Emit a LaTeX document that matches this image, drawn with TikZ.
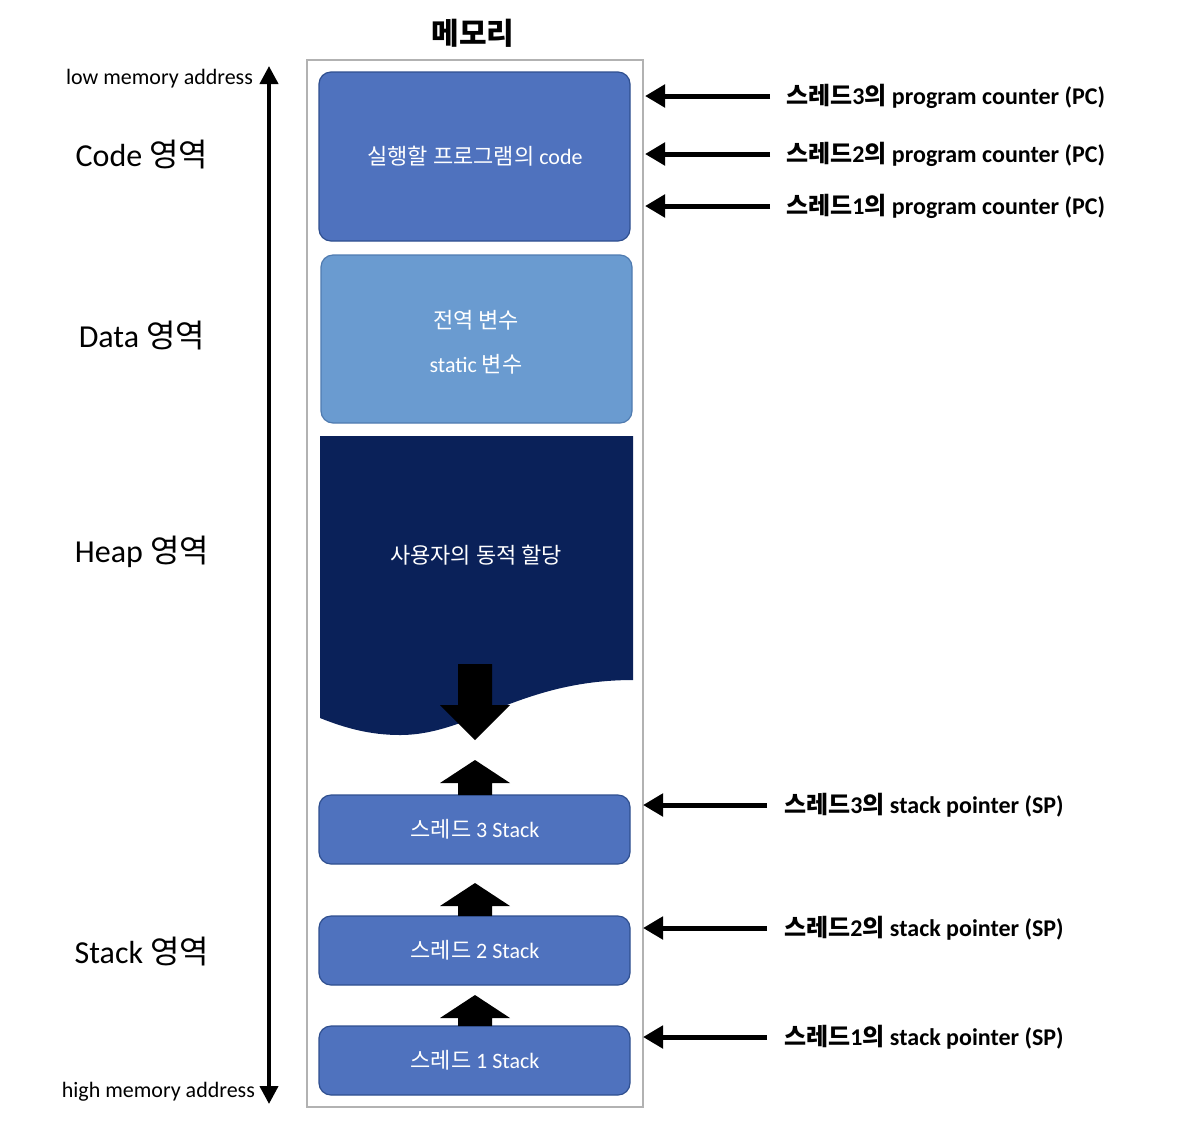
\documentclass[tikz,border=0pt]{standalone}
\usepackage{fontspec}
\setmainfont{Carlito}
\newfontfamily\kr{Noto Sans CJK KR}
\usetikzlibrary{arrows.meta}
\definecolor{cbox}{HTML}{4F72BE}
\definecolor{cbord}{HTML}{2F4F8F}
\definecolor{dbox}{HTML}{6A9BD0}
\definecolor{dbord}{HTML}{4F7BB0}
\definecolor{heap}{HTML}{0A2159}
\tikzset{
 mem/.style={draw=cbord,fill=cbox,rounded corners=6pt,line width=0.6pt},
 wtxt/.style={text=white,font=\fontsize{11}{13}\selectfont},
 ptr/.style={line width=2.5pt,-{Triangle[length=10pt,width=11pt]}},
 lbl/.style={anchor=west,font=\fontsize{12}{14}\selectfont\bfseries},
 reg/.style={font=\fontsize{16}{19}\selectfont},
 fat/.style={fill=black}
}
\begin{document}
\begin{tikzpicture}[x=0.5pt,y=-0.5pt]
\useasboundingbox (0,0) rectangle (1204,1142);
\node[font=\kr\fontsize{15}{18}\selectfont\bfseries] (title) at (473,33) {메모리};
\draw[gray!60,line width=0.8pt] (307,60) rectangle (643,1107);
% code
\draw[mem] (319,72) rectangle (630,241);
\node[wtxt] (code) at (475,156) {\kr 실행할 프로그램의 \rmfamily code};
% data
\draw[mem,draw=dbord,fill=dbox] (321,255) rectangle (632,423);
\node[wtxt] (data1) at (476,320) {\kr 전역 변수};
\node[wtxt] (data2) at (476,364) {static \kr 변수};
% heap
\fill[heap] (320,436) -- (633,436) -- (633,680) .. controls (520,680) and (470,735) .. (400,735) .. controls (370,735) and (345,728) .. (320,718) -- cycle;
\node[wtxt] (heapt) at (476,555) {\kr 사용자의 동적 할당};
\fill[fat] (458,664) -- (492,664) -- (492,705) -- (510,705) -- (475,740) -- (440,705) -- (458,705) -- cycle;
% stacks
\draw[mem] (319,795) rectangle (630,864);
\draw[mem] (319,916) rectangle (630,985);
\draw[mem] (319,1026) rectangle (630,1095);
\node[wtxt] (s3) at (475,829) {\kr 스레드 \rmfamily 3 Stack};
\node[wtxt] (s2) at (475,950) {\kr 스레드 \rmfamily 2 Stack};
\node[wtxt] (s1) at (475,1060) {\kr 스레드 \rmfamily 1 Stack};
\foreach \t/\b in {760/795,883/916,995/1026}{
 \fill[fat] (475,\t) -- (510,\t+23) -- (492,\t+23) -- (492,\b) -- (458,\b) -- (458,\t+23) -- (440,\t+23) -- cycle;}
% axis
\coordinate (atop) at (269,66);
\coordinate (abot) at (269,1104);
\draw[line width=2pt,{Triangle[length=9pt,width=9pt]}-{Triangle[length=9pt,width=9pt]}] (atop) -- (abot);
\node[anchor=east,font=\fontsize{11}{13}\selectfont] (low) at (260,79) {low memory address};
\node[anchor=east,font=\fontsize{11}{13}\selectfont] (high) at (262,1092) {high memory address};
\node[reg] (r1) at (142,155) {Code \kr 영역};
\node[reg] (r2) at (142,336) {Data \kr 영역};
\node[reg] (r3) at (142,552) {Heap \kr 영역};
\node[reg] (r4) at (142,951) {Stack \kr 영역};
% right pointers
\foreach \y/\n/\s in {96/3/a,154/2/b,206/1/c}{
 \coordinate (pa\s) at (770,\y); \coordinate (pb\s) at (645,\y);
 \draw[ptr] (pa\s) -- (pb\s);
 \node[lbl] (pl\s) at (779,\y) {{\kr 스레드}\n{\kr 의} program counter (PC)};}
\foreach \y/\n/\s in {805/3/a,928/2/b,1037/1/c}{
 \coordinate (qa\s) at (767,\y); \coordinate (qb\s) at (643,\y);
 \draw[ptr] (qa\s) -- (qb\s);
 \node[lbl] (ql\s) at (777,\y) {{\kr 스레드}\n{\kr 의} stack pointer (SP)};}
\end{tikzpicture}
\end{document}
